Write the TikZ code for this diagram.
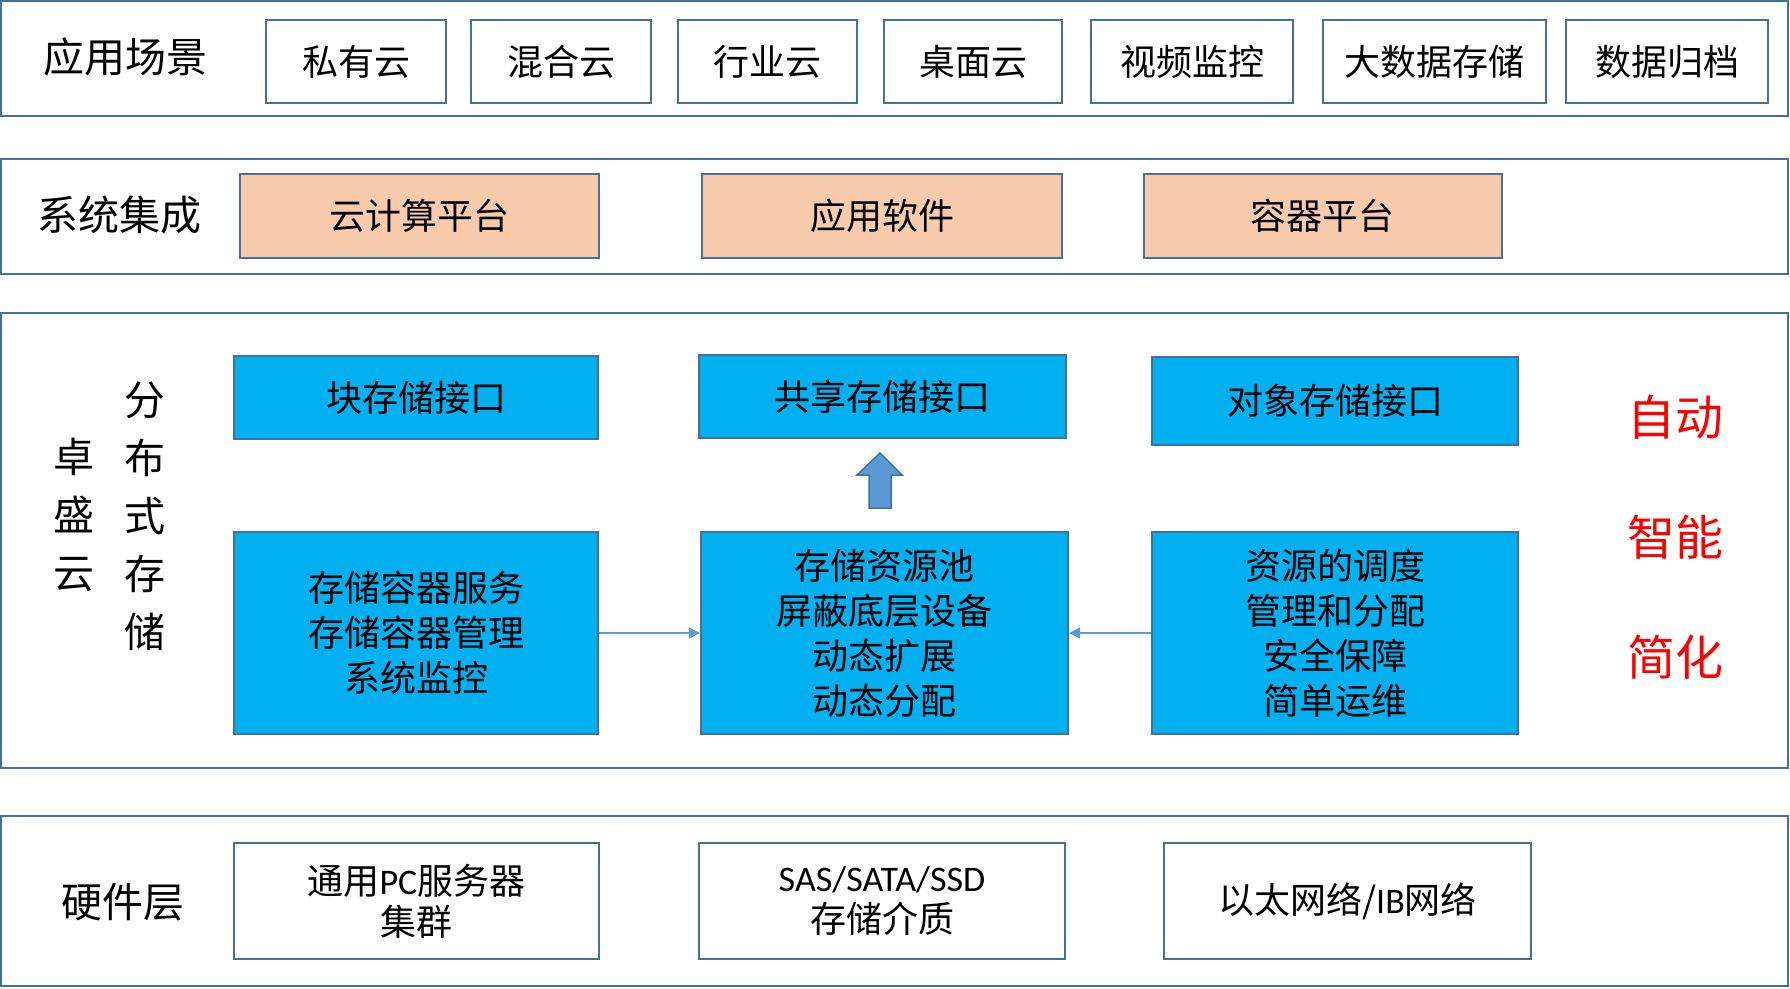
\documentclass[tikz,border=0pt]{standalone}
\usepackage{fontspec}
\setmainfont{Noto Sans CJK SC}
\newfontfamily\latfont{Carlito}
\usetikzlibrary{arrows.meta}
\definecolor{edgeblue}{HTML}{41719C}
\definecolor{cyanfill}{HTML}{00B0F0}
\definecolor{peach}{HTML}{F8CBAD}
\definecolor{arrowblue}{HTML}{5B9BD5}

\begin{document}
\begin{tikzpicture}[x=1pt,y=-1pt,
  layer/.style={draw=edgeblue,line width=2.5pt},
  plainbox/.style={draw=edgeblue,line width=2pt,inner sep=0pt,align=center,
    font=\fontsize{36}{45}\selectfont},
  peachbox/.style={plainbox,fill=peach},
  cyanbox/.style={plainbox,fill=cyanfill},
  hwbox/.style={plainbox,font=\fontsize{36}{41}\selectfont},
  tag/.style={font=\fontsize{41}{58}\selectfont,align=center,inner sep=0pt},
  slogan/.style={font=\fontsize{48}{60}\selectfont,text=red,inner sep=0pt},
  flow/.style={arrowblue,line width=1.5pt,-{Triangle[length=11pt,width=11pt]}}]
\useasboundingbox (0,0) rectangle (1790,988);

% four layers
\draw[layer] (1,1) rectangle (1788,116);
\draw[layer] (1,159) rectangle (1788,274);
\draw[layer] (1,313) rectangle (1788,768);
\draw[layer] (1,816) rectangle (1788,986);

% application scenarios
\node[tag] (scene) at (125,57) {应用场景};
\node[plainbox,minimum width=180pt,minimum height=83pt] (priv) at (356,61.5) {私有云};
\node[plainbox,minimum width=180pt,minimum height=83pt] (hybrid) at (561,61.5) {混合云};
\node[plainbox,minimum width=179pt,minimum height=83pt] (trade) at (767.5,61.5) {行业云};
\node[plainbox,minimum width=178pt,minimum height=83pt] (desk) at (973,61.5) {桌面云};
\node[plainbox,minimum width=202pt,minimum height=83pt] (video) at (1192,61.5) {视频监控};
\node[plainbox,minimum width=223pt,minimum height=83pt] (bigdata) at (1434,61.5) {大数据存储};
\node[plainbox,minimum width=202pt,minimum height=83pt] (archive) at (1667,61.5) {数据归档};

% system integration
\node[tag] (integ) at (119,215) {系统集成};
\node[peachbox,minimum width=359pt,minimum height=84pt] (cloud) at (419.5,216) {云计算平台};
\node[peachbox,minimum width=360pt,minimum height=84pt] (apps) at (882,216) {应用软件};
\node[peachbox,minimum width=358pt,minimum height=84pt] (cont) at (1322.5,216) {容器平台};

% distributed storage
\node[tag] (brand) at (74,515) {卓\\盛\\云};
\node[tag] (dist) at (145,516) {分\\布\\式\\存\\储};
\node[cyanbox,minimum width=364pt,minimum height=83pt] (block) at (416,397.5) {块存储接口};
\node[cyanbox,minimum width=367pt,minimum height=83pt] (share) at (882.5,396.5) {共享存储接口};
\node[cyanbox,minimum width=366pt,minimum height=88pt] (object) at (1335,401) {对象存储接口};
\node[cyanbox,minimum width=364pt,minimum height=202pt] (svc) at (416,633)
  {存储容器服务\\存储容器管理\\系统监控};
\node[cyanbox,minimum width=367pt,minimum height=202pt] (pool) at (884.5,633)
  {存储资源池\\屏蔽底层设备\\动态扩展\\动态分配};
\node[cyanbox,minimum width=366pt,minimum height=202pt] (sched) at (1335,633)
  {资源的调度\\管理和分配\\安全保障\\简单运维};
\node[slogan] (auto) at (1675,417) {自动};
\node[slogan] (smart) at (1675,537) {智能};
\node[slogan] (simple) at (1675,657) {简化};

\draw[flow] (svc) -- (pool);
\draw[flow] (sched) -- (pool);
\draw[fill=arrowblue,draw=edgeblue,line width=1.5pt]
  (880,453) -- (902,475) -- (891,475) -- (891,508) -- (869,508)
  -- (869,475) -- (857,475) -- cycle;

% hardware
\node[tag] (hw) at (123,902) {硬件层};
\node[hwbox,minimum width=365pt,minimum height=116pt] (server) at (416.5,901)
  {通用{\latfont PC}服务器\\集群};
\node[hwbox,minimum width=366pt,minimum height=116pt] (media) at (882,901)
  {{\latfont SAS/SATA/SSD}\\存储介质};
\node[hwbox,minimum width=367pt,minimum height=116pt] (net) at (1347.5,901)
  {以太网络/{\latfont IB}网络};
\end{tikzpicture}
\end{document}
